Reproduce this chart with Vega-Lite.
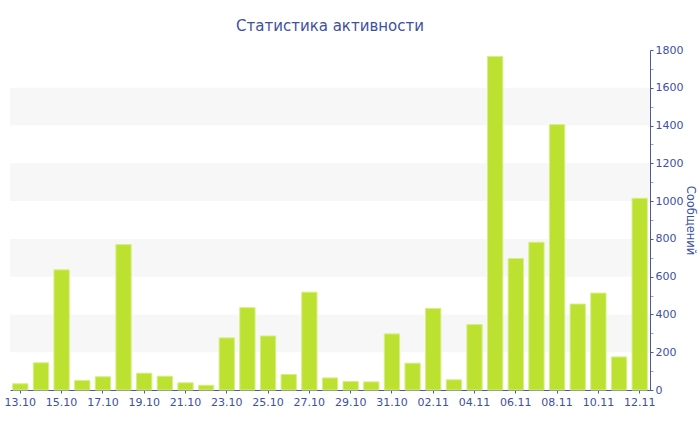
{
  "$schema": "https://vega.github.io/schema/vega-lite/v6.json",
  "width": 640,
  "height": 340,
  "autosize": {"type": "none"},
  "padding": {"left": 10, "top": 50, "right": 50, "bottom": 40},
  "background": "white",
  "title": {
    "text": "Статистика активности",
    "font": "DejaVu Sans",
    "fontSize": 15,
    "fontWeight": "normal",
    "color": "#3e50a0",
    "anchor": "middle",
    "offset": 10
  },
  "config": {
    "view": {"stroke": null},
    "axis": {"labelFont": "DejaVu Sans", "titleFont": "DejaVu Sans"},
    "axisY": {
      "orient": "right",
      "titleFontSize": 11.5,
      "titleFontWeight": "normal",
      "titleColor": "#3e50a0",
      "titleAngle": 90,
      "titlePadding": 2,
      "grid": false,
      "format": "d",
      "labelFontSize": 11,
      "labelColor": "#3e50a0",
      "domainColor": "#4a5a9c",
      "tickSize": 3,
      "labelPadding": 2,
      "labelFlush": false
    }
  },
  "datasets": {
    "bands": [
      {"lo": 200, "hi": 400},
      {"lo": 600, "hi": 800},
      {"lo": 1000, "hi": 1200},
      {"lo": 1400, "hi": 1600}
    ],
    "activity": [
      {"day": "13.10", "count": 33},
      {"day": "14.10", "count": 144},
      {"day": "15.10", "count": 636},
      {"day": "16.10", "count": 50},
      {"day": "17.10", "count": 70},
      {"day": "18.10", "count": 770},
      {"day": "19.10", "count": 89},
      {"day": "20.10", "count": 73},
      {"day": "21.10", "count": 38},
      {"day": "22.10", "count": 25},
      {"day": "23.10", "count": 276},
      {"day": "24.10", "count": 436},
      {"day": "25.10", "count": 286},
      {"day": "26.10", "count": 82},
      {"day": "27.10", "count": 518},
      {"day": "28.10", "count": 64},
      {"day": "29.10", "count": 45},
      {"day": "30.10", "count": 43},
      {"day": "31.10", "count": 297},
      {"day": "01.11", "count": 142},
      {"day": "02.11", "count": 432},
      {"day": "03.11", "count": 54},
      {"day": "04.11", "count": 347},
      {"day": "05.11", "count": 1766},
      {"day": "06.11", "count": 696},
      {"day": "07.11", "count": 782},
      {"day": "08.11", "count": 1405},
      {"day": "09.11", "count": 455},
      {"day": "10.11", "count": 513},
      {"day": "11.11", "count": 175},
      {"day": "12.11", "count": 1015}
    ]
  },
  "layer": [
    {
      "data": {"name": "bands"},
      "mark": {"type": "rect", "color": "#f7f7f7"},
      "encoding": {
        "y": {
          "field": "lo",
          "type": "quantitative",
          "scale": {"domain": [0, 1800]},
          "axis": {
            "orient": "right",
            "title": "Сообщений",
            "values": [0, 100, 200, 300, 400, 500, 600, 700, 800, 900, 1000, 1100, 1200, 1300, 1400, 1500, 1600, 1700, 1800],
            "labelExpr": "datum.value % 200 === 0 ? datum.label : ''",
            "tickColor": {"condition": {"test": "datum.value % 200 === 0", "value": "#4a5a9c"}, "value": "#9aa0b8"}
          }
        },
        "y2": {"field": "hi"}
      }
    },
    {
      "data": {"name": "activity"},
      "mark": {"type": "bar", "color": "#bce131", "stroke": "#d6ef84", "strokeWidth": 1},
      "encoding": {
        "x": {
          "field": "day",
          "type": "ordinal",
          "sort": null,
          "scale": {"paddingInner": 0.26, "paddingOuter": 0.13},
          "axis": {
            "title": null,
            "labelAngle": 0,
            "values": ["13.10", "15.10", "17.10", "19.10", "21.10", "23.10", "25.10", "27.10", "29.10", "31.10", "02.11", "04.11", "06.11", "08.11", "10.11", "12.11"],
            "labelFontSize": 11,
            "labelColor": "#3e50a0",
            "domainColor": "#4a5a9c",
            "tickColor": "#4a5a9c",
            "tickSize": 3,
            "labelPadding": 3
          }
        },
        "y": {
          "field": "count",
          "type": "quantitative",
          "scale": {"domain": [0, 1800]},
          "axis": {
            "orient": "right",
            "title": "Сообщений",
            "values": [0, 100, 200, 300, 400, 500, 600, 700, 800, 900, 1000, 1100, 1200, 1300, 1400, 1500, 1600, 1700, 1800],
            "labelExpr": "datum.value % 200 === 0 ? datum.label : ''",
            "tickColor": {"condition": {"test": "datum.value % 200 === 0", "value": "#4a5a9c"}, "value": "#9aa0b8"}
          }
        }
      }
    }
  ],
  "resolve": {"scale": {"y": "shared"}}
}
